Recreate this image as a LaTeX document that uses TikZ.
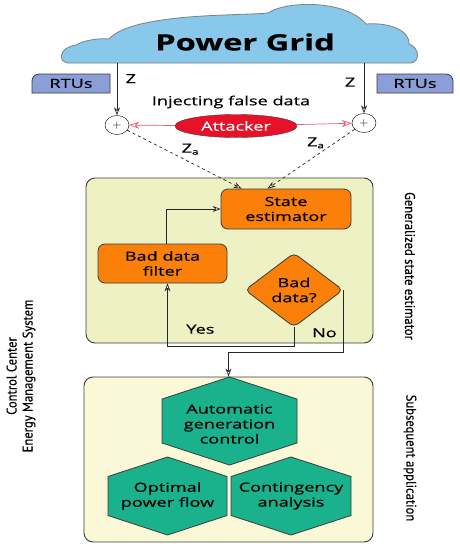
\documentclass[tikz,border=0pt]{standalone}
\usepackage{fontspec}
\setmainfont{Open Sans}[FakeStretch=1.45,FakeBold=0.5]
\newfontfamily\sidefont{PT Sans}[FakeStretch=0.9,FakeBold=0.3]
\usetikzlibrary{arrows.meta,shapes.geometric,positioning}

\definecolor{cloudblue}{RGB}{135,200,235}
\definecolor{rtublue}{RGB}{140,158,215}
\definecolor{attackred}{RGB}{232,18,40}
\definecolor{linkpink}{RGB}{240,90,110}
\definecolor{gsepanel}{RGB}{238,241,196}
\definecolor{apppanel}{RGB}{250,248,214}
\definecolor{procorange}{RGB}{250,128,10}
\definecolor{hexteal}{RGB}{25,178,140}
\definecolor{edgegray}{RGB}{60,60,60}

\begin{document}
\begin{tikzpicture}[x=1pt,y=-1pt,
    font=\fontsize{12.5}{15}\selectfont,
    panel/.style={draw=edgegray,rounded corners=9pt,line width=0.9pt,inner sep=0pt},
    proc/.style={draw=edgegray,fill=procorange,rounded corners=7pt,align=center,
                 line width=0.8pt,inner sep=2pt},
    decision/.style={diamond,draw=edgegray,fill=procorange,rounded corners=5pt,
                     align=center,line width=0.8pt,inner sep=1pt},
    rtubox/.style={draw=edgegray,fill=rtublue,line width=0.8pt},
    hexbox/.style={draw=edgegray,fill=hexteal,line width=0.8pt},
    sumnode/.style={draw,ellipse,minimum width=24pt,minimum height=19pt,inner sep=0pt},
    side/.style={font=\sidefont\fontsize{14}{16}\selectfont,align=center},
    arr/.style={draw=black!85,line width=0.7pt,-{Stealth[length=8pt,width=6pt,fill=white]}},
    redarr/.style={draw=linkpink,line width=0.7pt,-{Stealth[length=10pt,width=7pt,open]}}
  ]
  \fill[white] (0,0) rectangle (459,550);
  \useasboundingbox (0,0) rectangle (459,550);

  % cloud
  \filldraw[fill=cloudblue,draw=gray,line width=0.8pt]
    (68,63) .. controls (58,62) and (58,48) .. (76,45)
    .. controls (84,40) and (100,38) .. (109,39)
    .. controls (122,24) and (165,17) .. (225,15)
    .. controls (245,14) and (258,14) .. (268,13)
    .. controls (285,1) and (345,-1) .. (366,24)
    .. controls (392,22) and (410,32) .. (409,44)
    .. controls (420,48) and (420,62) .. (411,63) -- cycle;
  \node[font=\fontsize{22.5}{26}\selectfont\bfseries] (grid) at (245,42) {Power Grid};
  \coordinate (zl) at (117,63);
  \coordinate (zr) at (364,63);

  % RTUs
  \filldraw[rtubox] (32,93) [rounded corners=7pt] -- (32,74) [sharp corners] -- (110,74) -- (110,93) -- cycle;
  \filldraw[rtubox] (377,93) -- (377,74) [rounded corners=7pt] -- (453,74) [sharp corners] -- (453,93) -- cycle;
  \node (rtuL) at (71,83.5) {RTUs};
  \node (rtuR) at (415,83.5) {RTUs};

  % measurement and attack
  \node[sumnode] (sumL) at (117,125) {$+$};
  \node[sumnode] (sumR) at (364,123) {$+$};
  \node (inject) at (231,102) {Injecting false data};
  \node[ellipse,draw=edgegray,fill=attackred,text=white,minimum width=122pt,
        minimum height=23pt,inner sep=0pt] (attacker) at (236,126) {Attacker};

  \draw[arr] (zl) -- node[pos=0.3,right=5pt] {Z} (sumL);
  \draw[arr] (zr) -- node[pos=0.38,left=5pt] {Z} (sumR);
  \draw[redarr] (attacker) -- (sumL);
  \draw[redarr] (attacker) -- (sumR);

  % generalized state estimator
  \node[panel,fill=gsepanel,minimum width=287pt,minimum height=165pt] (gse) at (229.5,260.5) {};
  \node[proc,minimum width=130pt,minimum height=40pt] (se) at (286,209) {State\\estimator};
  \node[proc,minimum width=129pt,minimum height=39pt] (bdf) at (162.5,263.5) {Bad data\\filter};
  \node[decision,minimum width=98pt,minimum height=55pt] (bad) at (294,290) {Bad\\data?};

  \draw[arr,dashed] (sumL) -- node[pos=0.55,above=4pt] {Z\raisebox{-2pt}{\footnotesize a}}
        ([xshift=21pt]se.north west);
  \draw[arr,dashed] (sumR) -- node[pos=0.45,above=4pt] {Z\raisebox{-2pt}{\footnotesize a}}
        ([xshift=47pt]se.north west);
  \draw[arr] ([xshift=4pt]bdf.north) |- (se.west);
  \draw[arr] (bad.south) -- ++(0,19) -| node[pos=0.37,above=9pt] {Yes} ([xshift=5pt]bdf.south);

  % subsequent application
  \node[panel,fill=apppanel,minimum width=289pt,minimum height=165pt] (app) at (228.5,459.5) {};
  \draw[arr] (bad.east) -- node[pos=0.69,left=3pt] {No} ++(0,62) -| (app.north);

  \foreach \cx/\cy/\hw/\hh in {229.5/421/67.5/44, 167.5/496/59.5/39, 291/496/60/39}
    \filldraw[hexbox] (\cx,\cy-\hh) -- (\cx+\hw,\cy-\hh/2) -- (\cx+\hw,\cy+\hh/2)
      -- (\cx,\cy+\hh) -- (\cx-\hw,\cy+\hh/2) -- (\cx-\hw,\cy-\hh/2) -- cycle;
  \node[align=center] (agc) at (229.5,424) {Automatic\\generation\\control};
  \node[align=center] (opf) at (167.5,496) {Optimal\\power flow};
  \node[align=center] (ca) at (291,496) {Contingency\\analysis};

  % side labels
  \node[side,rotate=90] (ems) at (21,376) {Control Center\\Energy Management System};
  \node[side,rotate=-90] (gselabel) at (410,266) {Generalized state estimator};
  \node[side,rotate=-90] (applabel) at (410,458) {Subsequent application};
\end{tikzpicture}
\end{document}
